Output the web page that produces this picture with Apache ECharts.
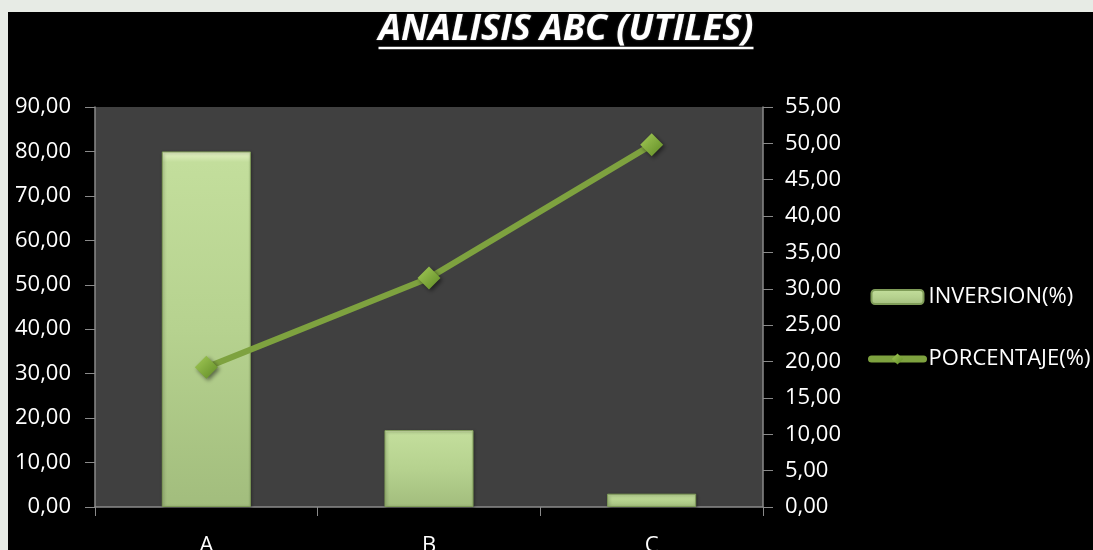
<!DOCTYPE html>
<html>
<head>
<meta charset="utf-8">
<script src="https://cdn.jsdelivr.net/npm/echarts@6/dist/echarts.min.js"></script>
<style>
  html, body { margin: 0; padding: 0; background: #e7ebe5; overflow: hidden; }
  #chart-container { position: absolute; left: 8px; top: 12px; width: 1085px; height: 538px; background: #000; }
</style>
</head>
<body>
<div id="chart-container"></div>
<script>
var categories = ["A", "B", "C"];
var inversion = [80.0, 17.3, 3.0];
var porcentaje = [19.2, 31.5, 49.8];
var titleText = "ANALISIS ABC (UTILES)";

var dom = document.getElementById("chart-container");
var myChart = echarts.init(dom, null, { renderer: "canvas" });

var fmt = function (v) { return v.toFixed(2).replace(".", ","); };
var baseFont = "'Open Sans', sans-serif";

// measure title so the underline fits it
var titleFont = "italic bold 36px 'Open Sans'";
var cv = document.createElement("canvas").getContext("2d");
cv.font = titleFont;
var tw = cv.measureText(titleText).width;
var tx = 558;

var option = {
  backgroundColor: "#000",
  textStyle: { fontFamily: baseFont },
  graphic: [
    {
      type: "text",
      x: tx,
      y: 0,
      style: {
        text: titleText,
        font: titleFont,
        fill: "#fff",
        align: "center",
        textShadowColor: "rgba(255,255,255,0.35)",
        textShadowBlur: 2
      }
    },
    {
      type: "line",
      shape: { x1: tx - tw / 2, y1: 36, x2: tx + tw / 2, y2: 36 },
      style: { stroke: "#fff", lineWidth: 2.5 }
    }
  ],
  legend: {
    orient: "vertical",
    left: 855,
    top: 269,
    itemGap: 40,
    itemWidth: 52,
    itemHeight: 14,
    textStyle: { color: "#fff", fontSize: 22, fontFamily: baseFont },
    data: [
      "INVERSION(%)",
      { name: "PORCENTAJE(%)", lineStyle: { width: 7, cap: "round" } }
    ]
  },
  grid: {
    left: 87,
    right: 330,
    top: 95,
    bottom: 43,
    outerBoundsMode: "none",
    containLabel: false,
    show: true,
    backgroundColor: "#404040",
    borderWidth: 0
  },
  xAxis: {
    type: "category",
    data: categories,
    axisLine: { lineStyle: { color: "#8a8a8a", width: 1.5 } },
    axisTick: { show: true, length: 9, lineStyle: { color: "#8a8a8a" } },
    axisLabel: { color: "#fff", fontSize: 22, margin: 28 }
  },
  yAxis: [
    {
      type: "value",
      min: 0,
      max: 90,
      interval: 10,
      axisLine: { show: true, lineStyle: { color: "#8a8a8a", width: 1.5 } },
      axisTick: { show: true, length: 10, lineStyle: { color: "#8a8a8a" } },
      splitLine: { show: false },
      axisLabel: { color: "#fff", fontSize: 22, margin: 24, formatter: fmt }
    },
    {
      type: "value",
      min: 0,
      max: 55,
      interval: 5,
      position: "right",
      axisLine: { show: true, lineStyle: { color: "#8a8a8a", width: 1.5 } },
      axisTick: { show: true, length: 10, lineStyle: { color: "#8a8a8a" } },
      splitLine: { show: false },
      axisLabel: { color: "#fff", fontSize: 22, margin: 22, formatter: fmt }
    }
  ],
  series: [
    {
      name: "INVERSION(%)",
      type: "bar",
      data: inversion,
      barWidth: "40%",
      itemStyle: {
        color: new echarts.graphic.LinearGradient(0, 0, 0, 1, [
          { offset: 0, color: "#e9f6c9" },
          { offset: 0.03, color: "#c3de9c" },
          { offset: 0.5, color: "#b6d28f" },
          { offset: 1, color: "#a2bd7d" }
        ]),
        borderColor: "#7f9c58",
        borderWidth: 1,
        shadowColor: "rgba(0,0,0,0.4)",
        shadowBlur: 3,
        shadowOffsetX: 1,
        shadowOffsetY: 1
      }
    },
    {
      name: "PORCENTAJE(%)",
      type: "line",
      yAxisIndex: 1,
      data: porcentaje,
      symbol: "diamond",
      symbolSize: 23,
      lineStyle: { color: "#7ea23f", width: 6 },
      itemStyle: {
        color: new echarts.graphic.LinearGradient(0, 0, 1, 1, [
          { offset: 0, color: "#a4cb58" },
          { offset: 1, color: "#5f8a24" }
        ]),
        borderWidth: 0,
        shadowColor: "rgba(0,0,0,0.5)",
        shadowBlur: 4,
        shadowOffsetX: 2,
        shadowOffsetY: 2
      }
    }
  ]
};

if (option && typeof option === "object") {
  myChart.setOption(option);
}

window.addEventListener("resize", myChart.resize);
</script>
</body>
</html>
